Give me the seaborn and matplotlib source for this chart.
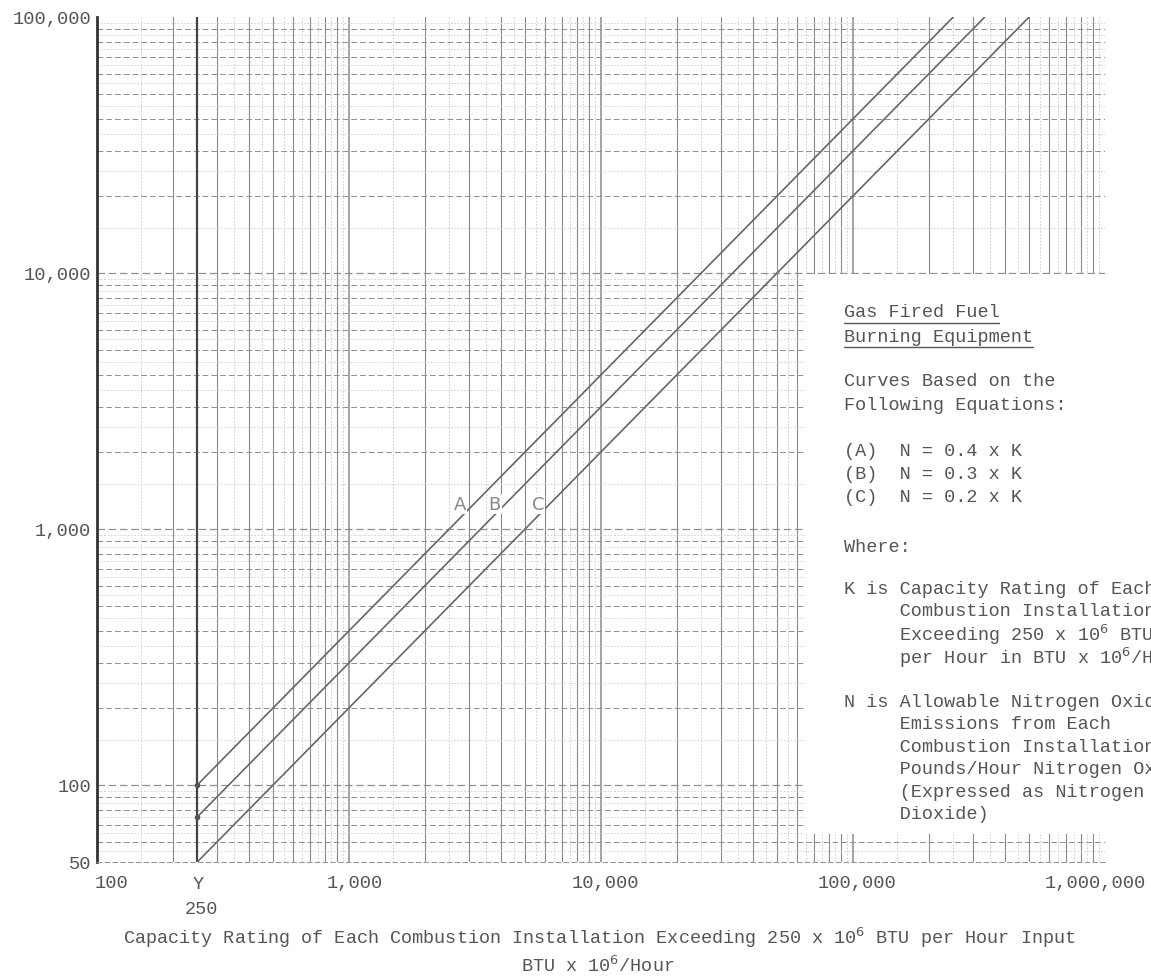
import numpy as np
import pandas as pd
import matplotlib
matplotlib.use("Agg")
import matplotlib.pyplot as plt
import matplotlib.ticker as mticker
import matplotlib.transforms as mtransforms
from matplotlib.patches import Rectangle
import seaborn as sns

# curve end points (K in BTU x 10^6/hr, N in lb/hr)
capacity_A = [250, 250000]
nox_A = [100, 100000]
capacity_B = [250, 333333]
nox_B = [75, 100000]
capacity_C = [250, 500000]
nox_C = [50, 100000]

x_ticks = [100, 1000, 10000, 100000, 1000000]
x_ticklabels = ["100", "1,000", "10,000", "100,000", "1,000,000"]
y_ticks = [50, 100, 1000, 10000, 100000]
y_ticklabels = ["50", "100", "1,000", "10,000", "100,000"]

df = pd.DataFrame({
    "K": capacity_A + capacity_B + capacity_C,
    "N": nox_A + nox_B + nox_C,
    "curve": ["A"] * 2 + ["B"] * 2 + ["C"] * 2,
})

sns.set_style("white")
plt.rcParams["font.family"] = ["Liberation Mono", "DejaVu Sans Mono"]
mono = 13.3
tc = "#555555"

fig = plt.figure(figsize=(11.51, 9.79), dpi=100)
ax = fig.add_axes([97 / 1151, 1 - 863 / 979, 1008 / 1151, 845 / 979])
ax.set_xscale("log")
ax.set_yscale("log")
ax.set_xlim(100, 1000000)
ax.set_ylim(50, 100000)

# graph paper grid
for d in 10.0 ** np.arange(2, 6):
    for m in np.arange(1, 10, 1.0):
        ax.axvline(d * m, color="#8a8a8a", lw=1.1 if m == 1 else 0.8, zorder=1)
    for m in np.arange(1.5, 10, 1.0):
        ax.axvline(d * m, color="#c8c8c8", lw=0.6, ls=(0, (2, 2)), zorder=1)
for d in 10.0 ** np.arange(1, 5):
    for m in np.arange(1, 10, 1.0):
        if d * m >= 50:
            ax.axhline(d * m, color="#909090", lw=0.9 if m == 1 else 0.7,
                       ls=(0, (6, 3)), zorder=1)
    for m in np.arange(1.5, 10, 1.0):
        if d * m >= 50:
            ax.axhline(d * m, color="#cccccc", lw=0.6, ls=(0, (2, 2)), zorder=1)
ax.axvline(250, color="#444444", lw=1.6, zorder=2)

sns.lineplot(data=df, x="K", y="N", units="curve", estimator=None,
             color="#666666", lw=1.2, ax=ax, zorder=4, legend=False)
ax.plot([250, 250], [nox_A[0], nox_B[0]], ls="none", marker="o", ms=3,
        color="#555555", zorder=5)

for lab, xx in zip(["A", "B", "C"], [2760, 3790, 5620]):
    ax.text(xx, 1250, lab, family="DejaVu Sans", fontsize=13, color="#888888",
            ha="center", va="center", zorder=6,
            bbox=dict(fc="white", ec="none", pad=0.5))

# white legend panel
fig.patches.append(Rectangle((805 / 1151, 1 - 835 / 979), 400 / 1151, 560 / 979,
                             transform=fig.transFigure, fc="white", ec="none",
                             zorder=3))

ax.set_xticks(x_ticks)
ax.set_xticklabels(x_ticklabels)
ax.set_yticks(y_ticks)
ax.set_yticklabels(y_ticklabels)
ax.xaxis.set_minor_locator(mticker.NullLocator())
ax.yaxis.set_minor_locator(mticker.NullLocator())
ax.tick_params(axis="both", length=0, labelsize=mono + 0.2, labelcolor=tc)
ax.tick_params(axis="x", pad=9)
ax.tick_params(axis="y", pad=4)
xl = ax.get_xticklabels()
shifts = [15, 6, 4, 4, -10]
for lab, dx in zip(xl, shifts):
    lab.set_transform(lab.get_transform() +
                      mtransforms.ScaledTranslation(dx / 100, 0, fig.dpi_scale_trans))
ax.set_xlabel("")
ax.set_ylabel("")
for s in ["top", "right"]:
    ax.spines[s].set_visible(False)
ax.spines["left"].set_color("#333333")
ax.spines["left"].set_linewidth(2)
ax.spines["bottom"].set_color("#999999")
ax.spines["bottom"].set_linestyle((0, (4, 3)))

fig.text(198 / 1151, 1 - 885 / 979, "Y", fontsize=mono, color=tc, ha="center", va="center")
fig.text(201 / 1151, 1 - 910 / 979, "250", fontsize=mono, color=tc, ha="center", va="center")
fig.text(599 / 1151, 1 - 938 / 979,
         "Capacity Rating of Each Combustion Installation Exceeding 250 x 10$^6$ BTU per Hour Input",
         fontsize=mono, color=tc, ha="center", va="center")
fig.text(598 / 1151, 1 - 966 / 979, "BTU x 10$^6$/Hour", fontsize=mono,
         color=tc, ha="center", va="center")

panel = [
    (313, "Gas Fired Fuel", True),
    (337, "Burning Equipment", True),
    (382, "Curves Based on the", False),
    (406, "Following Equations:", False),
    (452, "(A)  N = 0.4 x K", False),
    (475, "(B)  N = 0.3 x K", False),
    (498, "(C)  N = 0.2 x K", False),
    (547, "Where:", False),
    (590, "K is Capacity Rating of Each", False),
    (612, "     Combustion Installation", False),
    (635, "     Exceeding 250 x 10$^6$ BTU", False),
    (658, "     per Hour in BTU x 10$^6$/Hour", False),
    (703, "N is Allowable Nitrogen Oxide", False),
    (725, "     Emissions from Each", False),
    (748, "     Combustion Installation in", False),
    (770, "     Pounds/Hour Nitrogen Oxide", False),
    (793, "     (Expressed as Nitrogen", False),
    (815, "     Dioxide)", False),
]
for yy, txt, under in panel:
    fig.text(844 / 1151, 1 - yy / 979, txt, fontsize=mono, color=tc,
             ha="left", va="center", zorder=10)
    if under:
        w = len(txt) * 11.1
        fig.add_artist(plt.Line2D([844 / 1151, (844 + w) / 1151],
                                  [1 - (yy + 11) / 979] * 2, color=tc, lw=1,
                                  transform=fig.transFigure, zorder=10))

fig.savefig("out.png", dpi=100)
